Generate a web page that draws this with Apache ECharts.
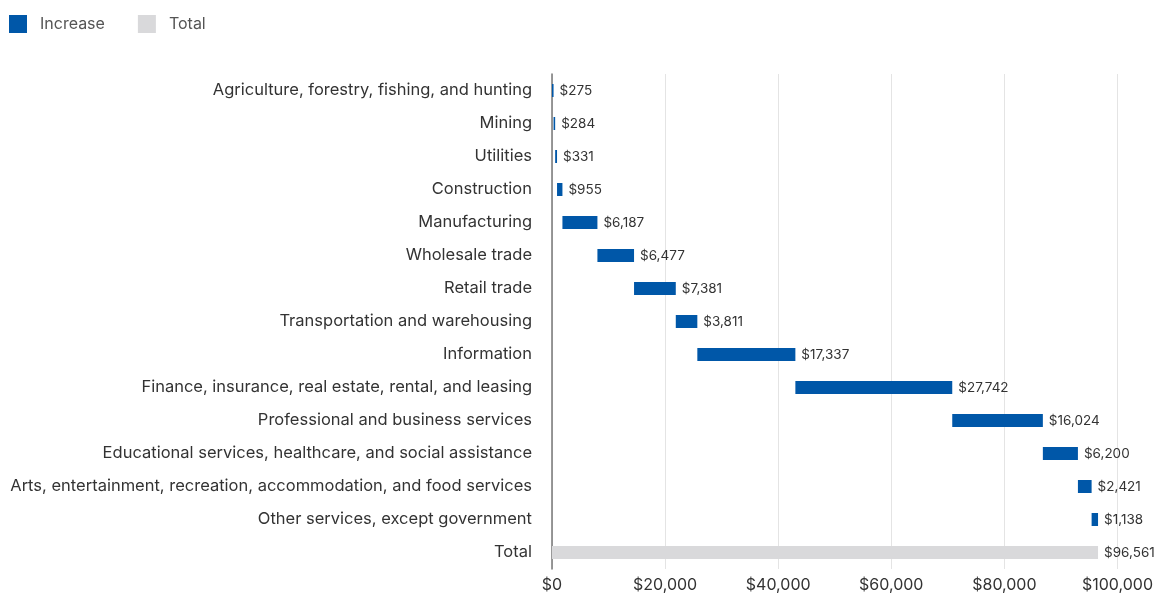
<!DOCTYPE html>
<html>
<head>
<meta charset="utf-8">
<script src="https://cdn.jsdelivr.net/npm/echarts@6/dist/echarts.min.js"></script>
<style>
  html, body { margin: 0; padding: 0; background: #fff; }
  #chart { width: 1156px; height: 601px; }
</style>
</head>
<body>
<div id="chart"></div>
<script>
// Sectors, top to bottom
const categories = [
  'Agriculture, forestry, fishing, and hunting',
  'Mining',
  'Utilities',
  'Construction',
  'Manufacturing',
  'Wholesale trade',
  'Retail trade',
  'Transportation and warehousing',
  'Information',
  'Finance, insurance, real estate, rental, and leasing',
  'Professional and business services',
  'Educational services, healthcare, and social assistance',
  'Arts, entertainment, recreation, accommodation, and food services',
  'Other services, except government',
  'Total'
];
const increases = [275, 284, 331, 955, 6187, 6477, 7381, 3811, 17337, 27742, 16024, 6200, 2421, 1138];
const totalValue = 96561;
const xTicks = [0, 20000, 40000, 60000, 80000, 100000];

const BLUE = '#0057a8';
const GREY = '#d9d9db';
const FONT = 'Inter, Roboto, sans-serif';

// invisible offsets so each increase starts where the previous ended
const base = [];
let run = 0;
increases.forEach((v) => { base.push(run); run += v; });
base.push(0);

const increaseData = increases.concat(['-']);
const totalData = increases.map(() => '-').concat([totalValue]);

const money = (v) => '$' + Number(v).toLocaleString('en-US');

const chart = echarts.init(document.getElementById('chart'), null, { renderer: 'canvas' });

chart.setOption({
  animation: false,
  textStyle: { fontFamily: FONT },
  legend: {
    data: ['Increase', 'Total'],
    left: 4,
    top: 10,
    itemWidth: 18,
    itemHeight: 18,
    itemGap: 33,
    icon: 'rect',
    textStyle: { fontSize: 16, color: '#555', fontFamily: FONT, padding: [0, 0, 0, 8] }
  },
  grid: { left: 552, right: 38, top: 74, bottom: 32 },
  xAxis: {
    type: 'value',
    min: 0,
    max: 100000,
    interval: 20000,
    axisLine: { show: false },
    axisTick: { show: false },
    splitLine: { lineStyle: { color: '#e4e4e4' } },
    axisLabel: {
      fontSize: 16,
      color: '#333',
      margin: 8,
      formatter: (v) => xTicks.includes(v) ? money(v) : ''
    }
  },
  yAxis: {
    type: 'category',
    inverse: true,
    data: categories,
    axisLine: { show: true, lineStyle: { color: '#777', width: 1.5 } },
    axisTick: { show: false },
    axisLabel: { fontSize: 16.5, color: '#333', margin: 20 }
  },
  series: [
    {
      name: 'base',
      type: 'bar',
      stack: 'w',
      barWidth: 13,
      itemStyle: { color: 'transparent' },
      emphasis: { disabled: true },
      silent: true,
      data: base
    },
    {
      name: 'Increase',
      type: 'bar',
      stack: 'w',
      barWidth: 13,
      itemStyle: { color: BLUE },
      label: {
        show: true,
        position: 'right',
        distance: 6,
        fontSize: 13.5,
        color: '#333',
        formatter: (p) => money(p.value)
      },
      data: increaseData
    },
    {
      name: 'Total',
      type: 'bar',
      stack: 'w',
      barWidth: 13,
      itemStyle: { color: GREY },
      label: {
        show: true,
        position: 'right',
        distance: 6,
        fontSize: 13.5,
        color: '#333',
        formatter: (p) => money(p.value)
      },
      data: totalData
    }
  ]
});
</script>
</body>
</html>
